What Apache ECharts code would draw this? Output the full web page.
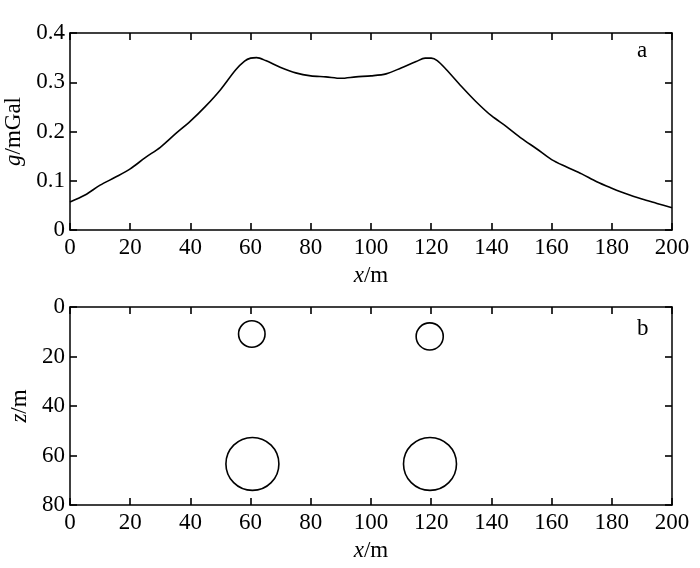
<!DOCTYPE html>
<html>
<head>
<meta charset="utf-8">
<script src="https://cdn.jsdelivr.net/npm/echarts@6/dist/echarts.min.js"></script>
<style>
  html, body { margin: 0; padding: 0; background: #fff; }
  #chart { width: 700px; height: 568px; }
</style>
</head>
<body>
<div id="chart"></div>
<script>
// profile positions (m) and gravity anomaly (mGal)
var profileX = [0, 5, 10, 15, 20, 25, 30, 35, 40, 45, 50, 55, 58, 60, 62, 65, 70, 75, 80, 85, 90, 95,
  100, 105, 110, 115, 118, 120, 122, 125, 130, 135, 140, 145, 150, 155, 160, 165, 170, 175, 180, 185, 190, 195, 200]
var gravity = [0.057, 0.071, 0.091, 0.107, 0.124, 0.147, 0.168, 0.195, 0.221, 0.251, 0.285, 0.325, 0.343, 0.349, 0.350,
  0.344, 0.330, 0.319, 0.313, 0.311, 0.308, 0.311, 0.313, 0.317, 0.329, 0.342, 0.349, 0.349, 0.344, 0.326, 0.292,
  0.260, 0.232, 0.210, 0.186, 0.165, 0.143, 0.128, 0.114, 0.098, 0.085, 0.073, 0.063, 0.054, 0.045]

// buried bodies: centre x, depth z, radius (m)
var bodyX = [60.4, 119.5, 60.6, 119.6]
var bodyZ = [10.9, 11.9, 63.4, 63.4]
var bodyR = [4.4, 4.5, 8.8, 8.8]

var font = 'Liberation Serif'
var black = '#000'

var chart = echarts.init(document.getElementById('chart'))

function xAxisCfg (gridIndex, pos, showLabel) {
  return {
    type: 'value',
    gridIndex: gridIndex,
    position: pos,
    min: 0,
    max: 200,
    interval: 20,
    name: showLabel ? '{i|x}/m' : '',
    nameLocation: 'middle',
    nameGap: 34,
    nameTextStyle: {
      fontFamily: font,
      fontSize: 23,
      color: black,
      rich: { i: { fontFamily: font, fontStyle: 'italic', fontSize: 23, color: black } }
    },
    axisLine: { show: true, onZero: false, lineStyle: { color: black, width: 1.5 } },
    axisTick: { show: true, inside: true, length: 7, lineStyle: { color: black, width: 1.6 } },
    axisLabel: { show: showLabel, fontFamily: font, fontSize: 23, color: black, margin: 6 },
    splitLine: { show: false }
  }
}

function yAxisCfg (gridIndex, pos, showLabel, opts) {
  var cfg = {
    type: 'value',
    gridIndex: gridIndex,
    position: pos,
    name: '',
    nameLocation: 'middle',
    nameTextStyle: {
      fontFamily: font,
      fontSize: 23,
      color: black,
      rich: { i: { fontFamily: font, fontStyle: 'italic', fontSize: 23, color: black } }
    },
    axisLine: { show: true, onZero: false, lineStyle: { color: black, width: 1.5 } },
    axisTick: { show: true, inside: true, length: 7, lineStyle: { color: black, width: 1.6 } },
    axisLabel: { show: showLabel, fontFamily: font, fontSize: 23, color: black, margin: 5 },
    splitLine: { show: false }
  }
  return Object.assign(cfg, opts)
}

var option = {
  backgroundColor: '#fff',
  animation: false,
  title: [
    { text: 'a', left: 632, top: 34, textStyle: { fontFamily: font, fontSize: 23, fontWeight: 'normal', color: black } },
    { text: 'b', left: 632, top: 312, textStyle: { fontFamily: font, fontSize: 23, fontWeight: 'normal', color: black } }
  ],
  grid: [
    { left: 70, right: 28, top: 33, height: 197, outerBoundsMode: 'none' },
    { left: 70, right: 28, top: 307, height: 198, outerBoundsMode: 'none' }
  ],
  xAxis: [
    xAxisCfg(0, 'bottom', true),
    xAxisCfg(0, 'top', false),
    xAxisCfg(1, 'bottom', true),
    xAxisCfg(1, 'top', false)
  ],
  yAxis: [
    yAxisCfg(0, 'left', true, { min: 0, max: 0.4, interval: 0.1, name: '{i|g}/mGal', nameGap: 40 }),
    yAxisCfg(0, 'right', false, { min: 0, max: 0.4, interval: 0.1 }),
    yAxisCfg(1, 'left', true, { min: 0, max: 80, interval: 20, inverse: true, name: '{i|z}/m', nameGap: 32 }),
    yAxisCfg(1, 'right', false, { min: 0, max: 80, interval: 20, inverse: true })
  ],
  series: [
    {
      type: 'line',
      xAxisIndex: 0,
      yAxisIndex: 0,
      data: profileX.map(function (x, i) { return [x, gravity[i]] }),
      showSymbol: false,
      smooth: 0.3,
      lineStyle: { color: black, width: 1.6 }
    },
    {
      type: 'custom',
      xAxisIndex: 2,
      yAxisIndex: 2,
      data: bodyX.map(function (x, i) { return [x, bodyZ[i], bodyR[i]] }),
      renderItem: function (params, api) {
        var c = api.coord([api.value(0), api.value(1)])
        var r = api.size([api.value(2), 0])[0]
        return {
          type: 'circle',
          shape: { cx: c[0], cy: c[1], r: r },
          style: { fill: 'none', stroke: black, lineWidth: 1.6 }
        }
      }
    }
  ]
}

chart.setOption(option)
</script>
</body>
</html>
